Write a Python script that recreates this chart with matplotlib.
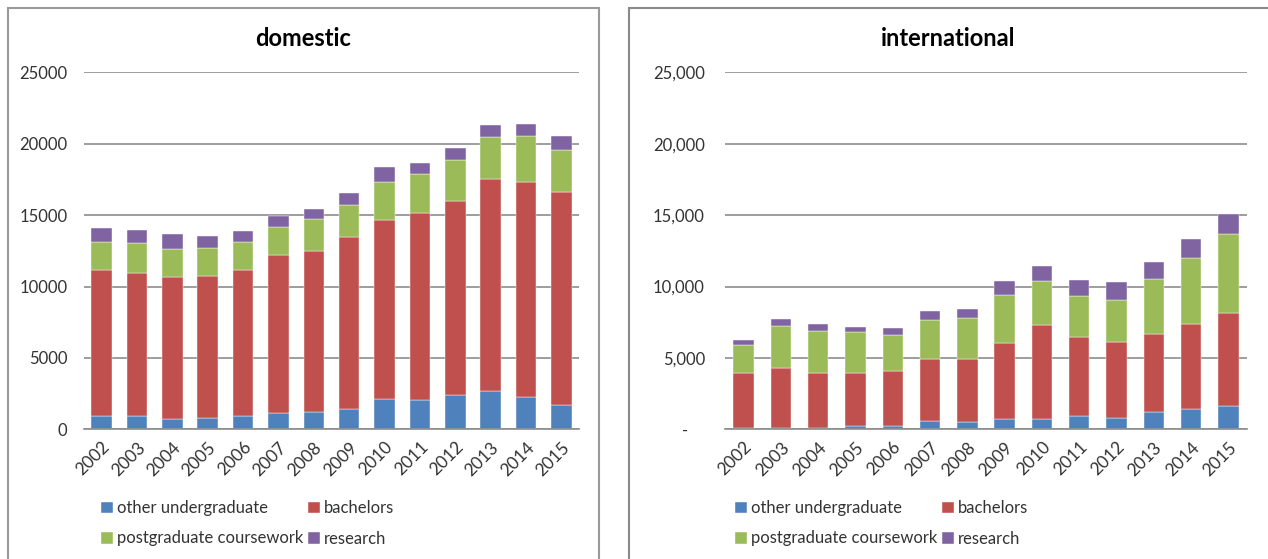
import numpy as np
import matplotlib
matplotlib.use('Agg')
import matplotlib.pyplot as plt
from matplotlib.patches import Rectangle
from matplotlib.ticker import FuncFormatter

plt.rcParams['font.family'] = ['Lato', 'DejaVu Sans']

# Données
years = ['2002', '2003', '2004', '2005', '2006', '2007', '2008',
         '2009', '2010', '2011', '2012', '2013', '2014', '2015']
series = ['other undergraduate', 'bachelors', 'postgraduate coursework', 'research']

dom_other = [910, 910, 750, 820, 910, 1170, 1240, 1450, 2100, 2080, 2430, 2710, 2240, 1700]
dom_bach = [10225, 10040, 9920, 9945, 10225, 11015, 11245, 12015, 12585, 13095, 13535, 14800, 15080, 14895]
dom_post = [2010, 2130, 1990, 1960, 2010, 1980, 2220, 2220, 2610, 2685, 2870, 2940, 3200, 2940]
dom_res = [980, 910, 1050, 810, 770, 800, 700, 890, 1070, 790, 860, 890, 890, 980]

int_other = [100, 100, 100, 230, 230, 580, 490, 700, 700, 910, 820, 1190, 1450, 1660]
int_bach = [3820, 4220, 3870, 3740, 3830, 4340, 4460, 5320, 6580, 5530, 5270, 5460, 5900, 6510]
int_post = [1980, 2940, 2910, 2820, 2540, 2710, 2820, 3380, 3100, 2870, 2960, 3850, 4670, 5530]
int_res = [350, 440, 470, 370, 490, 630, 650, 980, 1080, 1140, 1240, 1210, 1330, 1350]

colors = ['#4F81BD', '#C0504D', '#9BBB59', '#8064A2']

W, H = 1268, 559
fig = plt.figure(figsize=(W / 100, H / 100), dpi=100)

# Cadres des deux graphiques
fig.patches.append(Rectangle((8 / W, -0.1), (599 - 8) / W, 1.1 - 8 / H,
                             transform=fig.transFigure, fill=False,
                             edgecolor='#9a9a9a', linewidth=1.5))
fig.patches.append(Rectangle((629 / W, -0.1), 1.0, 1.1 - 8 / H,
                             transform=fig.transFigure, fill=False,
                             edgecolor='#8a8a8a', linewidth=1.5))

bottom = (H - 429.3) / H
height = (429.3 - 72.3) / H


def draw(ax_rect, data, title, fmt, bar_w, legend_x, title_x, ypad):
    ax = fig.add_axes(ax_rect)
    x = np.arange(len(years))
    base = np.zeros(len(years))
    handles = []
    for vals, c, lab in zip(data, colors, series):
        b = ax.bar(x, vals, bar_w, bottom=base, color=c, label=lab,
                   edgecolor='white', linewidth=0.3, zorder=3)
        base += np.array(vals)
        handles.append(b)
    ax.set_ylim(0, 25000)
    ax.set_xlim(-0.5, len(years) - 0.5)
    ax.set_yticks(range(0, 25001, 5000))
    ax.yaxis.set_major_formatter(FuncFormatter(fmt))
    ax.grid(axis='y', color='#8c8c8c', linewidth=1.2, zorder=0)
    for s in ['top', 'right', 'left']:
        ax.spines[s].set_visible(False)
    ax.spines['bottom'].set_color('#8c8c8c')
    ax.spines['bottom'].set_linewidth(1.2)
    ax.spines['bottom'].set_zorder(4)
    ax.tick_params(axis='both', length=0, labelsize=12, colors='#333333')
    ax.tick_params(axis='y', pad=ypad)
    ax.set_xticks(x)
    ax.set_xticklabels(years, rotation=45, ha='right', va='top',
                       rotation_mode='anchor', fontsize=12.5)
    ax.tick_params(axis='x', pad=7)
    fig.text(title_x / W, (H - 38) / H, title,
             ha='center', va='center', fontsize=17, fontweight='bold')
    order = [0, 2, 1, 3]
    fig.legend([handles[i] for i in order], [series[i] for i in order],
               loc='upper left', bbox_to_anchor=(legend_x, (H - 492) / H),
               ncol=2, frameon=False, fontsize=12, borderpad=0,
               handlelength=0.7, handleheight=0.7, handletextpad=0.25,
               labelspacing=0.85, columnspacing=0.3, labelcolor='#333333')
    return ax


draw([84 / W, bottom, (579 - 84) / W, height],
     [dom_other, dom_bach, dom_post, dom_res], 'domestic',
     lambda v, p: f'{int(v)}', 0.58, 93 / W, 303, 12)

draw([725 / W, bottom, (1247 - 725) / W, height],
     [int_other, int_bach, int_post, int_res], 'international',
     lambda v, p: '-    ' if v == 0 else f'{int(v):,}', 0.55, 727 / W, 948, 14.5)

fig.savefig('out.png', dpi=100)
